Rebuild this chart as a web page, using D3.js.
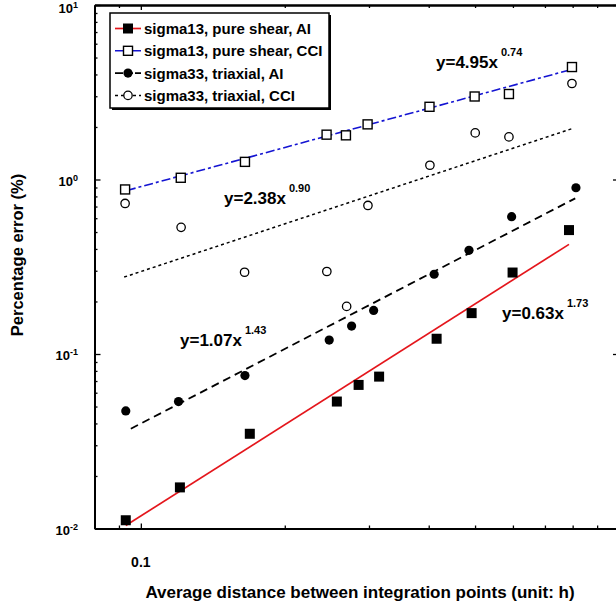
<!DOCTYPE html>
<html>
<head>
<meta charset="utf-8">
<script src="https://cdn.jsdelivr.net/npm/d3@7"></script>
<style>
  body { margin: 0; background: #fff; }
  text { font-family: "Liberation Sans", Arial, sans-serif; font-weight: bold; fill: #000; }
</style>
</head>
<body>
<div id="chart"></div>
<script>
// values
var seriesNames = ["sigma13, pure shear, AI", "sigma13, pure shear, CCI", "sigma33, triaxial, AI", "sigma33, triaxial, CCI"];

var shearAIx  = [0.0930, 0.1207, 0.169, 0.257, 0.2854, 0.315, 0.4155, 0.4918, 0.599, 0.786];
var shearAIy  = [0.01115, 0.0172, 0.0349, 0.0534, 0.0665, 0.0742, 0.1223, 0.1715, 0.293, 0.513];
var shearCCIx = [0.0927, 0.1212, 0.1651, 0.2446, 0.2685, 0.298, 0.4015, 0.499, 0.5886, 0.7973];
var shearCCIy = [0.877, 1.023, 1.262, 1.807, 1.791, 2.07, 2.61, 2.99, 3.09, 4.41];
var triAIx    = [0.0930, 0.1199, 0.1651, 0.2477, 0.2759, 0.3068, 0.4106, 0.4856, 0.5963, 0.8128];
var triAIy    = [0.0472, 0.0534, 0.0752, 0.1202, 0.1445, 0.1777, 0.2865, 0.3929, 0.612, 0.897];
var triCCIx   = [0.0927, 0.1214, 0.1648, 0.2449, 0.2694, 0.2985, 0.4023, 0.5004, 0.5886, 0.7973];
var triCCIy   = [0.729, 0.532, 0.294, 0.297, 0.1874, 0.710, 1.207, 1.849, 1.754, 3.55];

// fitted lines, end points [x0, x1] and [y0, y1]
var fitShearAIx = [0.093, 0.786],  fitShearAIy = [0.0104, 0.425];
var fitShearCCIx = [0.0935, 0.79], fitShearCCIy = [0.865, 4.25];
var fitTriAIx = [0.0953, 0.81],    fitTriAIy = [0.0373, 0.78];
var fitTriCCIx = [0.0923, 0.795],  fitTriCCIy = [0.276, 1.95];

var fitLabels = ["y=0.63x", "y=4.95x", "y=1.07x", "y=2.38x"];
var fitPowers = ["1.73", "0.74", "1.43", "0.90"];

var xMajor = [0.1];
var xMinor = [0.09, 0.2, 0.3, 0.4, 0.5, 0.6, 0.7, 0.8, 0.9];
var yMajor = [0.01, 0.1, 1, 10];
var yExp = ["-2", "-1", "0", "1"];
var xTickLabels = ["0.1"];

var width = 616, height = 609;

var svg = d3.select("#chart")
  .append("svg")
    .attr("width", width)
    .attr("height", height);

var x = d3.scaleLog().domain([0.08, 1]).range([94.5, 619]);
var y = d3.scaleLog().domain([0.01, 10]).range([528.5, 5]);

var yMinor = [];
yMajor.slice(0, 3).forEach(function(d) {
  for (var k = 2; k <= 9; k++) yMinor.push(+(d * k).toPrecision(3));
});

function zip(xs, ys) {
  return xs.map(function(v, i) { return {x: v, y: ys[i]}; });
}

var line = d3.line()
  .x(function(d) { return x(d.x); })
  .y(function(d) { return y(d.y); });

// axes: ticks pointing into the plot
function drawAxis(axisFn, scale, vals, size, tr) {
  var g = svg.append("g")
    .attr("transform", tr)
    .call(axisFn(scale).tickValues(vals).tickSize(size).tickSizeOuter(0).tickFormat(""));
  g.select(".domain").attr("stroke-width", 2);
  g.selectAll(".tick line").attr("stroke-width", 1.3);
  return g;
}
drawAxis(d3.axisBottom, x, xMinor, -3, "translate(0," + y(0.01) + ")");
drawAxis(d3.axisBottom, x, xMajor, -5, "translate(0," + y(0.01) + ")");
drawAxis(d3.axisTop, x, xMinor, -3, "translate(0," + y(10) + ")");
drawAxis(d3.axisTop, x, xMajor, -5, "translate(0," + y(10) + ")");
drawAxis(d3.axisLeft, y, yMinor, -3, "translate(" + x(0.08) + ",0)");
drawAxis(d3.axisLeft, y, yMajor, -6, "translate(" + x(0.08) + ",0)");
drawAxis(d3.axisRight, y, yMinor, -3, "translate(" + x(1) + ",0)");
drawAxis(d3.axisRight, y, yMajor, -6, "translate(" + x(1) + ",0)");

// tick labels
var ylab = svg.append("g").selectAll("text")
  .data(yMajor)
  .enter().append("text")
    .attr("x", 78)
    .attr("y", function(d) { return Math.max(y(d) + 6, 13); })
    .style("text-anchor", "end")
    .style("font-size", "13px");
ylab.append("tspan").text("10");
ylab.append("tspan")
  .attr("dy", -5)
  .style("font-size", "9px")
  .text(function(d, i) { return yExp[i]; });

svg.append("g").selectAll("text")
  .data(xMajor)
  .enter().append("text")
    .attr("x", function(d) { return x(d); })
    .attr("y", 567)
    .style("text-anchor", "middle")
    .style("font-size", "14px")
    .text(function(d, i) { return xTickLabels[i]; });

svg.append("text")
  .attr("x", 360)
  .attr("y", 598)
  .style("text-anchor", "middle")
  .style("font-size", "17px")
  .text("Average distance between integration points (unit: h)");

svg.append("text")
  .attr("transform", "rotate(-90)")
  .attr("x", -255)
  .attr("y", 23)
  .style("text-anchor", "middle")
  .style("font-size", "16.5px")
  .text("Percentage error (%)");

// fit lines
var styles = [
  {stroke: "#e4161c", dash: null, sw: 1.7},
  {stroke: "#1414d2", dash: "9,3,3,3", sw: 1.6},
  {stroke: "#000", dash: "8,5", sw: 1.8},
  {stroke: "#000", dash: "3,3", sw: 1.5}
];
var fits = [
  zip(fitShearAIx, fitShearAIy),
  zip(fitShearCCIx, fitShearCCIy),
  zip(fitTriAIx, fitTriAIy),
  zip(fitTriCCIx, fitTriCCIy)
];
fits.forEach(function(f, i) {
  svg.append("path")
    .datum(f)
    .attr("fill", "none")
    .attr("stroke", styles[i].stroke)
    .attr("stroke-width", styles[i].sw)
    .attr("stroke-dasharray", styles[i].dash)
    .attr("d", line);
});

// markers
function squares(data, filled) {
  svg.append("g").selectAll("rect")
    .data(data)
    .enter().append("rect")
      .attr("x", function(d) { return x(d.x) - (filled ? 5 : 4.5); })
      .attr("y", function(d) { return y(d.y) - (filled ? 5 : 4.5); })
      .attr("width", filled ? 10 : 9)
      .attr("height", filled ? 10 : 9)
      .attr("fill", filled ? "#000" : "#fff")
      .attr("stroke", "#000")
      .attr("stroke-width", filled ? 0 : 1.4);
}
function circles(data, filled) {
  svg.append("g").selectAll("circle")
    .data(data)
    .enter().append("circle")
      .attr("cx", function(d) { return x(d.x); })
      .attr("cy", function(d) { return y(d.y); })
      .attr("r", filled ? 4.6 : 4.2)
      .attr("fill", filled ? "#000" : "#fff")
      .attr("stroke", "#000")
      .attr("stroke-width", filled ? 0 : 1.3);
}
squares(zip(shearAIx, shearAIy), true);
squares(zip(shearCCIx, shearCCIy), false);
circles(zip(triAIx, triAIy), true);
circles(zip(triCCIx, triCCIy), false);

// equations
var eqPos = [[502, 319], [436, 68], [180, 346], [224, 204]];
fitLabels.forEach(function(t, i) {
  var tx = svg.append("text")
    .attr("x", eqPos[i][0])
    .attr("y", eqPos[i][1])
    .style("font-size", "17px");
  tx.append("tspan").text(t);
  tx.append("tspan")
    .attr("dx", 3)
    .attr("dy", -12)
    .style("font-size", "11px")
    .text(fitPowers[i]);
});

// legend
var lg = svg.append("g").attr("transform", "translate(110,13)");
lg.append("rect")
  .attr("x", 2).attr("y", 2)
  .attr("width", 219).attr("height", 95)
  .attr("fill", "#000");
lg.append("rect")
  .attr("width", 219).attr("height", 95)
  .attr("fill", "#fff")
  .attr("stroke", "#000")
  .attr("stroke-width", 1.5);

seriesNames.forEach(function(name, i) {
  var row = lg.append("g").attr("transform", "translate(0," + (15.5 + i * 22.3) + ")");
  row.append("line")
    .attr("x1", 5).attr("x2", 31)
    .attr("stroke", styles[i].stroke)
    .attr("stroke-width", styles[i].sw)
    .attr("stroke-dasharray", i == 2 ? "8,2" : styles[i].dash);
  if (i < 2) {
    row.append("rect")
      .attr("x", i == 0 ? 13 : 13.5).attr("y", i == 0 ? -5 : -4.5)
      .attr("width", i == 0 ? 10 : 9).attr("height", i == 0 ? 10 : 9)
      .attr("fill", i == 0 ? "#000" : "#fff")
      .attr("stroke", "#000")
      .attr("stroke-width", i == 0 ? 0 : 1.4);
  } else {
    row.append("circle")
      .attr("cx", 18).attr("r", i == 2 ? 4.6 : 4.2)
      .attr("fill", i == 2 ? "#000" : "#fff")
      .attr("stroke", "#000")
      .attr("stroke-width", i == 2 ? 0 : 1.3);
  }
  row.append("text")
    .attr("x", 34)
    .attr("y", 5.5)
    .style("font-size", "15px")
    .text(name);
});
</script>
</body>
</html>
